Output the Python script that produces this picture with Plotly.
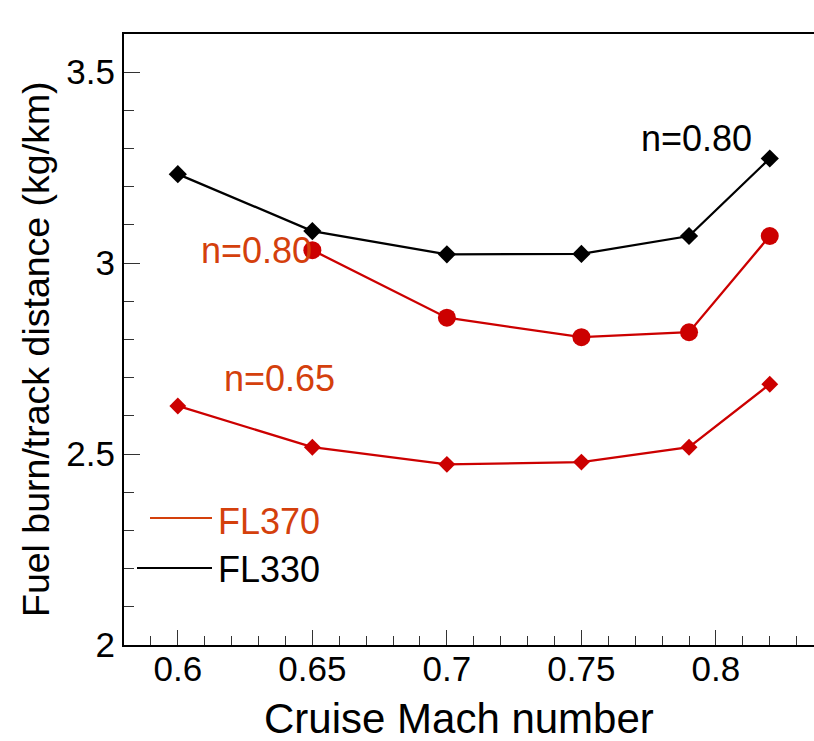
import plotly.graph_objects as go

mach_330 = [0.60, 0.65, 0.70, 0.75, 0.79, 0.82]
fuel_330_n080 = [3.233, 3.084, 3.023, 3.024, 3.071, 3.274]

mach_370_n080 = [0.65, 0.70, 0.75, 0.79, 0.82]
fuel_370_n080 = [3.034, 2.857, 2.806, 2.819, 3.071]

mach_370_n065 = [0.60, 0.65, 0.70, 0.75, 0.79, 0.82]
fuel_370_n065 = [2.626, 2.518, 2.473, 2.479, 2.518, 2.683]

legend_labels = ["FL370", "FL330"]
x_title = "Cruise Mach number"
y_title = "Fuel burn/track distance (kg/km)"

RED = "#cc0000"
TXT_RED = "#d4400c"
FONT = "Liberation Sans, Arial, Helvetica, sans-serif"

W, H = 814, 741
ML, MR, MT, MB = 124, 0, 34, 96

fig = go.Figure()
fig.add_trace(go.Scatter(x=mach_330, y=fuel_330_n080, mode="lines+markers",
                         line=dict(color="black", width=2.3),
                         marker=dict(symbol="diamond", size=14, color="black"),
                         showlegend=False))
fig.add_trace(go.Scatter(x=mach_370_n080, y=fuel_370_n080, mode="lines+markers",
                         line=dict(color=RED, width=2.3),
                         marker=dict(symbol="circle", size=18, color=RED),
                         showlegend=False))
fig.add_trace(go.Scatter(x=mach_370_n065, y=fuel_370_n065, mode="lines+markers",
                         line=dict(color=RED, width=2.3),
                         marker=dict(symbol="diamond", size=13, color=RED),
                         showlegend=False))

def px2paper_x(px):
    return (px - ML) / (W - ML - MR)

def px2paper_y(py):
    return (H - MB - py) / (H - MT - MB)

# legend (lines + labels)
shapes = [
    dict(type="line", xref="paper", yref="paper",
         x0=px2paper_x(150), x1=px2paper_x(212), y0=px2paper_y(518), y1=px2paper_y(518),
         line=dict(color=TXT_RED, width=2)),
    dict(type="line", xref="paper", yref="paper",
         x0=px2paper_x(137), x1=px2paper_x(212), y0=px2paper_y(568), y1=px2paper_y(568),
         line=dict(color="black", width=2)),
]
annotations = [
    dict(text=legend_labels[0], xref="paper", yref="paper", x=px2paper_x(216), y=px2paper_y(521),
         xanchor="left", yanchor="middle", showarrow=False, font=dict(family=FONT, size=36, color=TXT_RED)),
    dict(text=legend_labels[1], xref="paper", yref="paper", x=px2paper_x(216), y=px2paper_y(569),
         xanchor="left", yanchor="middle", showarrow=False, font=dict(family=FONT, size=36, color="black")),
    dict(text="n=0.80", xref="x", yref="y", x=0.7926, y=3.326, xanchor="center", yanchor="middle",
         showarrow=False, font=dict(family=FONT, size=36, color="black")),
    dict(text="n=0.80", xref="x", yref="y", x=0.6292, y=3.034, xanchor="center", yanchor="middle",
         showarrow=False, font=dict(family=FONT, size=36, color=TXT_RED)),
    dict(text="n=0.65", xref="x", yref="y", x=0.6378, y=2.698, xanchor="center", yanchor="middle",
         showarrow=False, font=dict(family=FONT, size=36, color=TXT_RED)),
    # axis titles
    dict(text=x_title, xref="paper", yref="paper", x=px2paper_x(459), y=px2paper_y(718),
         xanchor="center", yanchor="middle", showarrow=False,
         font=dict(family=FONT, size=42, color="black")),
    dict(text=y_title, xref="paper", yref="paper", x=px2paper_x(36), y=px2paper_y(349),
         xanchor="center", yanchor="middle", textangle=-90, showarrow=False,
         font=dict(family=FONT, size=37.5, color="black")),
]

fig.update_layout(
    width=W, height=H,
    margin=dict(l=ML, r=MR, t=MT, b=MB, pad=0),
    plot_bgcolor="white", paper_bgcolor="white",
    font=dict(family=FONT, color="black"),
    shapes=shapes, annotations=annotations,
    xaxis=dict(range=[0.58, 0.83644], tick0=0.6, dtick=0.05, tickformat="~g",
               showgrid=False, zeroline=False,
               showline=True, linecolor="black", linewidth=2, mirror=True,
               ticks="inside", ticklen=15, tickwidth=1.3, tickcolor="#333",
               minor=dict(dtick=0.01, tick0=0.6, ticks="inside", ticklen=9, tickwidth=1.2, tickcolor="#333"),
               tickfont=dict(size=35, family=FONT, color="black"),
               ticklabelstandoff=-8),
    yaxis=dict(range=[2.0, 3.6], tick0=2.0, dtick=0.5, tickformat="~g",
               showgrid=False, zeroline=False,
               showline=True, linecolor="black", linewidth=2, mirror=False,
               ticks="inside", ticklen=16, tickwidth=1.3, tickcolor="#333",
               minor=dict(dtick=0.1, tick0=2.0, ticks="inside", ticklen=10, tickwidth=1.2, tickcolor="#333"),
               tickfont=dict(size=35, family=FONT, color="black")),
)

fig.write_html("out.html")
